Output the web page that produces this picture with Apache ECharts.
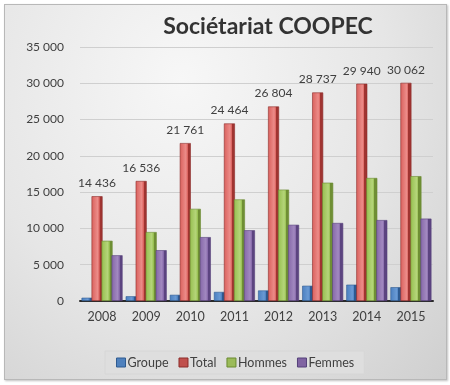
<!DOCTYPE html>
<html>
<head>
<meta charset="utf-8">
<script src="https://cdn.jsdelivr.net/npm/echarts@6/dist/echarts.min.js"></script>
<style>
html,body{margin:0;padding:0;background:#ffffff;}
#frame{position:absolute;left:4px;top:4px;width:441px;height:374px;border:1px solid #b8b8b8;box-shadow:1px 1px 2px rgba(0,0,0,0.25);
background:radial-gradient(ellipse at 40% 20%, #f7f7f7 0%, #e6e6e6 55%, #cfcfcf 100%);}
#chart{position:absolute;left:0;top:0;width:450px;height:385px;}
</style>
</head>
<body>
<div id="frame"></div>
<div id="chart"></div>
<script>
var title = 'Sociétariat COOPEC';
var categories = ['2008','2009','2010','2011','2012','2013','2014','2015'];
var groupe = [450, 650, 850, 1250, 1450, 2100, 2250, 1900];
var total = [14436, 16536, 21761, 24464, 26804, 28737, 29940, 30062];
var hommes = [8300, 9500, 12700, 14000, 15350, 16300, 16950, 17200];
var femmes = [6300, 7000, 8800, 9750, 10500, 10750, 11150, 11350];
var seriesNames = ['Groupe','Total','Hommes','Femmes'];

function fmt(v){ return String(v).replace(/\B(?=(\d{3})+(?!\d))/g, ' '); }
function grad(front, light, side){
  return new echarts.graphic.LinearGradient(0,0,1,0,[
    {offset:0,color:front},{offset:0.55,color:light},{offset:0.72,color:front},
    {offset:0.73,color:side},{offset:1,color:side}]);
}
var styles = [
  {c:grad('#4a7fc0','#6a9ad4','#2d5a91'), b:'#2f5b90', legend:'#4f81bd'},
  {c:grad('#d9605c','#ec8c89','#a03431'), b:'#8c2c2a', legend:'#c0504d'},
  {c:grad('#96bf4f','#b5d57a','#6f8f34'), b:'#6a8a30', legend:'#9bbb59'},
  {c:grad('#8567a8','#a289c0','#5c4480'), b:'#55407a', legend:'#8064a2'}
];
var data = [groupe,total,hommes,femmes];
var chart = echarts.init(document.getElementById('chart'));
var series = data.map(function(d,i){
  return {
    name: seriesNames[i], type:'bar', data:d, barWidth:11, barGap:'-9%',
    itemStyle:{color:styles[i].c, borderColor:styles[i].b, borderWidth:0.6},
    label: i===1 ? {show:true, position:'top', distance:7, color:'#404040', fontSize:12,
      fontFamily:'Lato', formatter:function(p){return fmt(p.value);}} : {show:false}
  };
});
chart.setOption({
  animation:false,
  backgroundColor:'transparent',
  title:{text:title, left:263, top:10, textAlign:'center',
    textStyle:{fontFamily:'Lato', fontWeight:'bold', fontSize:23, color:'#333333'}},
  legend:{
    data: seriesNames.map(function(n,i){return {name:n, itemStyle:{color:styles[i].legend, borderColor:styles[i].b, borderWidth:1}};}),
    bottom:11, left:105, itemWidth:9, itemHeight:9, itemGap:10, icon:'rect',
    backgroundColor:'#dedede', padding:[5,10,5,11], borderColor:'#d6d6d6', borderWidth:1,
    textStyle:{fontFamily:'Lato', fontSize:12.5, color:'#404040', padding:[0,0,0,-3]}
  },
  grid:{left:80, right:17, top:47, bottom:84},
  xAxis:{type:'category', data:categories,
    axisLine:{lineStyle:{color:'#2a2a2a', width:2}}, axisTick:{show:false},
    axisLabel:{color:'#404040', fontFamily:'Lato', fontSize:12.5, margin:9}},
  yAxis:{type:'value', min:0, max:35000, interval:5000,
    axisLine:{show:false}, axisTick:{show:false},
    splitLine:{lineStyle:{color:'#cfcfcf', width:1}},
    axisLabel:{color:'#404040', fontFamily:'Lato', fontSize:12, margin:16,
      formatter:function(v){return fmt(v);}}},
  series:series
});
</script>
</body>
</html>
